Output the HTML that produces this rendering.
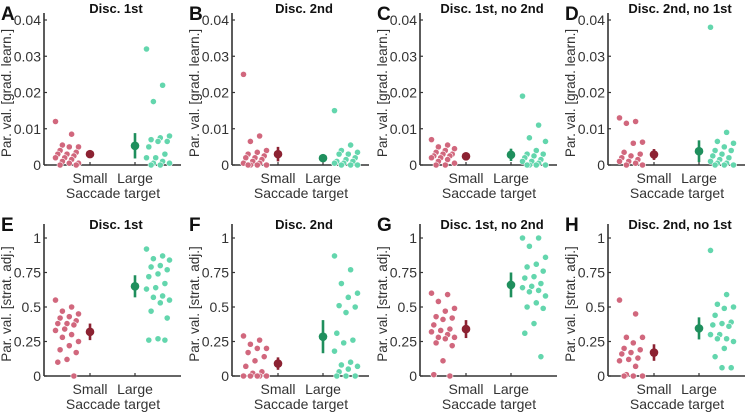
<!DOCTYPE html>
<html><head><meta charset="utf-8">
<style>
body{margin:0;background:#fff;}
svg{display:block;font-family:"Liberation Sans",Arial,sans-serif;}
</style></head>
<body>
<svg id="fig" width="746" height="413" viewBox="0 0 746 413"></svg>
<script>
const panelLetters = ["A","B","C","D","E","F","G","H"];
const panelTitles = ["Disc. 1st","Disc. 2nd","Disc. 1st, no 2nd","Disc. 2nd, no 1st","Disc. 1st","Disc. 2nd","Disc. 1st, no 2nd","Disc. 2nd, no 1st"];
const categories = ["Small","Large"];
const topTicks = [0,0.01,0.02,0.03,0.04];
const topTickLabels = ["0","0.01","0.02","0.03","0.04"];
const botTicks = [0,0.25,0.5,0.75,1];
const botTickLabels = ["0","0.25","0.5","0.75","1"];
const smallVals = [
 [0.012,0.0085,0.0055,0.005,0.005,0.004,0.0035,0.003,0.003,0.0025,0.002,0.002,0.0015,0.001,0.0005,0.0005,0,0],
 [0.025,0.008,0.0065,0.004,0.0035,0.003,0.0025,0.002,0.002,0.0015,0.001,0.0005,0.0005,0,0,0,0],
 [0.007,0.0055,0.005,0.0045,0.004,0.0035,0.003,0.003,0.0025,0.0025,0.002,0.002,0.0015,0.001,0.0005,0,0],
 [0.013,0.012,0.0115,0.0063,0.006,0.0035,0.003,0.0025,0.002,0.0015,0.001,0.001,0.0005,0,0],
 [0.55,0.5,0.47,0.45,0.43,0.42,0.4,0.38,0.38,0.37,0.34,0.33,0.3,0.28,0.25,0.22,0.19,0.17,0.12,0.1,0],
 [0.29,0.26,0.23,0.2,0.2,0.17,0.14,0.11,0.07,0.03,0.02,0,0,0,0,0],
 [0.6,0.59,0.54,0.49,0.47,0.43,0.42,0.41,0.37,0.34,0.33,0.32,0.3,0.28,0.28,0.27,0.24,0.22,0.11,0.01,0],
 [0.55,0.45,0.28,0.28,0.24,0.2,0.19,0.17,0.16,0.13,0.12,0.11,0.07,0.01,0,0,0]
];
const largeVals = [
 [0.032,0.022,0.0175,0.008,0.0075,0.007,0.0065,0.0065,0.005,0.003,0.002,0.002,0.001,0.0005,0.0005,0,0],
 [0.015,0.0055,0.004,0.0035,0.003,0.003,0.002,0.0015,0.001,0.001,0.0005,0.0005,0,0,0],
 [0.019,0.011,0.0075,0.0065,0.004,0.003,0.003,0.0025,0.002,0.0015,0.001,0.001,0.0005,0,0,0,0],
 [0.038,0.009,0.0065,0.006,0.005,0.004,0.004,0.003,0.0025,0.002,0.0015,0.001,0.0005,0.0005,0,0,0],
 [0.92,0.87,0.85,0.84,0.8,0.79,0.77,0.74,0.72,0.67,0.64,0.63,0.58,0.57,0.55,0.53,0.47,0.42,0.27,0.26,0.26],
 [0.87,0.77,0.67,0.6,0.57,0.51,0.5,0.46,0.31,0.26,0.24,0.18,0.1,0.08,0.07,0.05,0.03,0,0,0],
 [1,1,0.94,0.86,0.81,0.79,0.76,0.72,0.71,0.67,0.65,0.64,0.62,0.61,0.58,0.53,0.5,0.49,0.38,0.31,0.14],
 [0.91,0.59,0.52,0.5,0.49,0.44,0.39,0.38,0.37,0.36,0.3,0.3,0.27,0.27,0.25,0.2,0.14,0.06,0.06]
];
const smallMean = [0.003,0.003,0.0024,0.0029,0.32,0.09,0.34,0.17];
const smallErr = [0.0007,0.002,0.0003,0.0015,0.06,0.045,0.065,0.06];
const largeMean = [0.0053,0.0019,0.0028,0.0038,0.65,0.285,0.66,0.345];
const largeErr = [0.0035,0.001,0.0017,0.003,0.08,0.12,0.09,0.08];

const NS="http://www.w3.org/2000/svg";
const svg=document.getElementById('fig');
function el(tag,attrs,parent){const e=document.createElementNS(NS,tag);for(const k in attrs)e.setAttribute(k,attrs[k]);(parent||svg).appendChild(e);return e;}
const C={txt:"#333",pink:"#d1677d",dred:"#8c2232",teal:"#63d6ad",dgreen:"#1f8f5d"};

for(let p=0;p<8;p++){
  const top=p<4;
  const ax=44+188*(p%4);
  const y0=top?165:376, yTop=top?13:224;
  const ymax=top?0.04:1, ypix=top?145:138;
  const ys=v=>y0-v/ymax*ypix;
  const xs=c=>ax+(c===0?46:91);
  const g=el('g',{});
  
  
  const L=el('text',{x:ax-43,y:top?20:231,'font-size':19,'font-weight':'bold',fill:'#111'},g);
  L.textContent=panelLetters[p];
  
  const T=el('text',{x:ax+72,y:top?13:229,'font-size':13,'font-weight':'bold','text-anchor':'middle',fill:'#111'},g);
  T.textContent=panelTitles[p];
  
  const ya=el('line',{x1:ax,y1:yTop,x2:ax,y2:y0,stroke:'#333','stroke-width':1.6},g);
  
  const xa=el('line',{x1:ax,y1:y0,x2:ax+137,y2:y0,stroke:'#333','stroke-width':1.6},g);
  
  const ticks=top?topTicks:botTicks, tl=top?topTickLabels:botTickLabels;
  ticks.forEach((t,i)=>{
    el('line',{x1:ax,y1:ys(t),x2:ax+3,y2:ys(t),stroke:'#333','stroke-width':1.2},g);
    const tx=el('text',{x:ax-3,y:ys(t)+5,'font-size':14,'text-anchor':'end',fill:C.txt},g);
    tx.textContent=tl[i];
    
  });
  categories.forEach((c,i)=>{
    el('line',{x1:xs(i),y1:y0,x2:xs(i),y2:y0-3,stroke:'#333','stroke-width':1.2},g);
    const tx=el('text',{x:xs(i),y:y0+18,'font-size':14,'text-anchor':'middle',fill:C.txt},g);
    tx.textContent=c;
    
  });
  const xt=el('text',{x:ax+69,y:y0+33,'font-size':14,'text-anchor':'middle',fill:C.txt},g);
  xt.textContent='Saccade target';
  
  const yc=(yTop+y0)/2+4;
  const yt=el('text',{x:0,y:0,'font-size':13.5,'text-anchor':'middle',fill:C.txt,transform:`translate(${ax-33},${yc}) rotate(-90)`},g);
  yt.textContent=top?'Par. val. [grad. learn.]':'Par. val. [strat. adj.]';
  
  [[smallVals[p],23,C.pink],[largeVals[p],114,C.teal]].forEach(([vals,cx,col],k)=>{
    vals.forEach((v,i)=>{
      const j=((i*7)%11-5)*2.3;
      const c=el('circle',{cx:ax+cx+j,cy:ys(v),r:3.1,fill:col,stroke:'#fff','stroke-width':0.6},g);
      
      
    });
  });
  [[smallMean[p],smallErr[p],0,C.dred],[largeMean[p],largeErr[p],1,C.dgreen]].forEach(([m,e,i,col])=>{
    const ln=el('line',{x1:xs(i),y1:ys(Math.max(0,m-e)),x2:xs(i),y2:ys(m+e),stroke:col,'stroke-width':2.6},g);
    
    const c=el('circle',{cx:xs(i),cy:ys(m),r:4.3,fill:col},g);
    
  });
}
</script>
</body></html>
